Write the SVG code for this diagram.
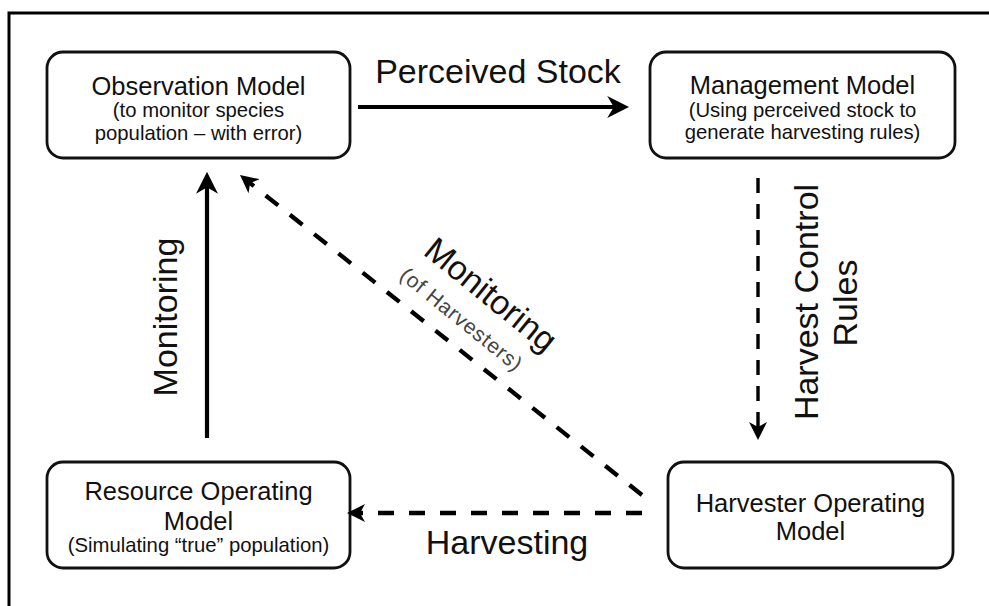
<svg xmlns="http://www.w3.org/2000/svg" width="989" height="606" viewBox="0 0 989 606">
<defs>
<style>
.box{fill:#fff;stroke:#111;stroke-width:2.8}
.t{font-family:"Liberation Sans",Arial,sans-serif;fill:#111;text-anchor:middle}
.title{font-size:25.5px}
.sub{font-size:20.3px}
.lbl{font-size:34px}
.solid{fill:none;stroke:#000;stroke-width:4.2}
.dash{fill:none;stroke:#000;stroke-width:4.3;stroke-dasharray:16 15}
.dashv{fill:none;stroke:#000;stroke-width:3.4;stroke-dasharray:15 11}
</style>
<marker id="ah" markerUnits="userSpaceOnUse" markerWidth="22" markerHeight="22" viewBox="0 0 20 20" refX="8" refY="10" orient="auto">
<path d="M0,0 L20,10 L0,20 L6,10 Z" fill="#000"/>
</marker>
<marker id="ahd" markerUnits="userSpaceOnUse" markerWidth="18" markerHeight="18" viewBox="0 0 18 18" refX="6" refY="9" orient="auto">
<path d="M0,0 L18,9 L0,18 L5,9 Z" fill="#000"/>
</marker>
</defs>
<rect width="989" height="606" fill="#fff"/>
<path d="M9,606 V13 H989" fill="none" stroke="#000" stroke-width="3"/>

<g id="observation">
<rect class="box" x="47" y="52" width="303" height="106" rx="16"/>
<text class="t title" x="198.5" y="95">Observation Model</text>
<text class="t sub" x="198.5" y="117">(to monitor species</text>
<text class="t sub" x="198.5" y="140">population – with error)</text>
</g>

<g id="management">
<rect class="box" x="650" y="52" width="305" height="106" rx="16"/>
<text class="t title" x="802.5" y="94">Management Model</text>
<text class="t sub" x="802.5" y="117">(Using perceived stock to</text>
<text class="t sub" x="802.5" y="139">generate harvesting rules)</text>
</g>

<g id="resource">
<rect class="box" x="47" y="462" width="303" height="106" rx="16"/>
<text class="t title" x="198.5" y="500">Resource Operating</text>
<text class="t title" x="198.5" y="530">Model</text>
<text class="t sub" x="198.5" y="552">(Simulating “true” population)</text>
</g>

<g id="harvester">
<rect class="box" x="668" y="462" width="285" height="106" rx="16"/>
<text class="t title" x="810.5" y="512">Harvester Operating</text>
<text class="t title" x="810.5" y="540">Model</text>
</g>

<g id="connectors">
<line class="solid" x1="358" y1="107" x2="616" y2="107" marker-end="url(#ah)"/>
<line class="solid" x1="207" y1="438" x2="207" y2="185" marker-end="url(#ah)"/>
<line class="dashv" x1="758" y1="178" x2="758" y2="428" marker-end="url(#ahd)"/>
<line class="dash" x1="642" y1="513" x2="359" y2="513" marker-end="url(#ahd)"/>
<line class="dash" x1="642" y1="495" x2="249.4" y2="182.5" marker-end="url(#ahd)"/>
</g>

<g id="labels">
<text class="t lbl" x="498" y="83">Perceived Stock</text>
<text class="t lbl" transform="translate(177,317) rotate(-90)">Monitoring</text>
<text class="t lbl" transform="translate(818,302) rotate(-90)">Harvest Control</text>
<text class="t lbl" transform="translate(857,303) rotate(-90)">Rules</text>
<text class="t lbl" x="507" y="554">Harvesting</text>
<text class="t lbl" transform="translate(483.6,303.6) rotate(39)">Monitoring</text>
<text class="t" style="font-size:21px;letter-spacing:0.8px;fill:#444" transform="translate(457,325) rotate(39)">(of Harvesters)</text>
</g>
</svg>
